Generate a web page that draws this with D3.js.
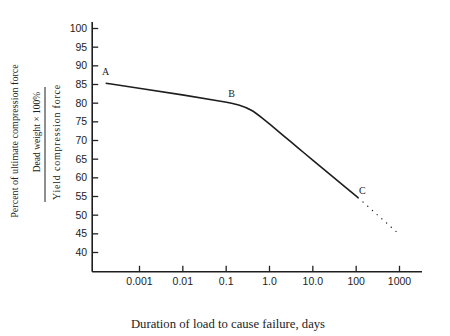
<!DOCTYPE html>
<html>
<head>
<meta charset="utf-8">
<script src="https://cdn.jsdelivr.net/npm/d3@7/dist/d3.min.js"></script>
<style>
  html, body { margin: 0; padding: 0; background: #fff; }
  svg { display: block; font-family: "Liberation Serif", "DejaVu Serif", serif; }
  .axis text { font-size: 10.5px; fill: #222; }
  .axis line, .axis path { stroke: #222; }
</style>
</head>
<body>
<svg id="chart" width="450" height="336"></svg>
<script>
// Duration of load (days) and percent of ultimate compression force
const durationDays = [0.00017, 0.001, 0.01, 0.1, 0.2, 0.4, 0.7, 1.0, 2, 5, 10, 30, 60, 115];
const percentForce = [85.2, 83.9, 82.1, 80.2, 79.5, 78.1, 75.85, 74.4, 71.5, 67.6, 64.7, 60.1, 57.2, 54.5];

// Extrapolated (dotted) continuation beyond point C
const extrapDays = [115, 1000];
const extrapForce = [54.5, 44.8];

// Labelled points on the curve
const pointNames = ["A", "B", "C"];
const pointDays = [0.00017, 0.13, 115];
const pointForce = [85.2, 79.8, 54.5];

// Axis ticks
const xTickValues = [0.001, 0.01, 0.1, 1, 10, 100, 1000];
const xTickLabels = ["0.001", "0.01", "0.1", "1.0", "10.0", "100", "1000"];
const yTickValues = [40, 45, 50, 55, 60, 65, 70, 75, 80, 85, 90, 95, 100];

const svg = d3.select("#chart");

const x = d3.scaleLog().domain([1e-3, 1e3]).range([139, 399]);
const y = d3.scaleLinear().domain([40, 100]).range([252, 28]);

const xMin = Math.pow(10, -4.08), xMax = Math.pow(10, 3.53);
const yMin = 34.7, yMax = 101.6;
const ink = "#1e1e1e";

// Axis lines
svg.append("line")
  .attr("x1", x(xMin)).attr("x2", x(xMin))
  .attr("y1", y(yMax)).attr("y2", y(yMin))
  .attr("stroke", ink).attr("stroke-width", 1.6);
svg.append("line")
  .attr("x1", x(xMin)).attr("x2", x(xMax))
  .attr("y1", y(yMin)).attr("y2", y(yMin))
  .attr("stroke", ink).attr("stroke-width", 1.6);

// Y axis ticks (pointing inward)
const yAxis = d3.axisLeft(y)
  .tickValues(yTickValues)
  .tickFormat(d3.format("d"))
  .tickSizeInner(-6)
  .tickSizeOuter(0)
  .tickPadding(5);
const gy = svg.append("g").attr("class", "axis")
  .attr("transform", `translate(${x(xMin)},0)`)
  .call(yAxis);
gy.select(".domain").remove();
gy.selectAll(".tick line").attr("stroke-width", 1.3);

// X axis ticks (pointing inward)
const xAxis = d3.axisBottom(x)
  .tickValues(xTickValues)
  .tickFormat((d, i) => xTickLabels[i])
  .tickSizeInner(-6)
  .tickSizeOuter(0)
  .tickPadding(6);
const gx = svg.append("g").attr("class", "axis")
  .attr("transform", `translate(0,${y(yMin)})`)
  .call(xAxis);
gx.select(".domain").remove();
gx.selectAll(".tick line").attr("stroke-width", 1.3);

// Main curve
const line = d3.line()
  .x((d, i) => x(durationDays[i]))
  .y((d, i) => y(percentForce[i]))
  .curve(d3.curveBasis);
svg.append("path")
  .attr("d", line(durationDays))
  .attr("fill", "none")
  .attr("stroke", ink)
  .attr("stroke-width", 1.6);

// Dotted extrapolation
svg.append("path")
  .attr("d", d3.line()
    .x((d, i) => x(extrapDays[i]))
    .y((d, i) => y(extrapForce[i]))(extrapDays))
  .attr("fill", "none")
  .attr("stroke", ink)
  .attr("stroke-width", 1.3)
  .attr("stroke-linecap", "round")
  .attr("stroke-dasharray", "0.1 6.2");

// Point labels
const labelOffsets = [[0, -8], [1, -6], [4, -4]];
svg.selectAll("text.pt")
  .data(pointNames)
  .enter().append("text")
  .attr("class", "pt")
  .attr("x", (d, i) => x(pointDays[i]) + labelOffsets[i][0])
  .attr("y", (d, i) => y(pointForce[i]) + labelOffsets[i][1])
  .attr("text-anchor", "middle")
  .attr("font-size", 10)
  .attr("fill", "#222")
  .text(d => d);

// X axis title
svg.append("text")
  .attr("x", 228).attr("y", 328)
  .attr("text-anchor", "middle")
  .attr("font-size", 12.7)
  .attr("fill", "#222")
  .text("Duration of load to cause failure, days");

// Y axis title: description and ratio
svg.append("text")
  .attr("transform", "translate(18,141) rotate(-90)")
  .attr("text-anchor", "middle")
  .attr("font-size", 10.1)
  .attr("fill", "#222")
  .text("Percent of ultimate compression force");

svg.append("text")
  .attr("transform", "translate(40,132) rotate(-90)")
  .attr("text-anchor", "middle")
  .attr("font-size", 9.5)
  .attr("fill", "#222")
  .text("Dead weight × 100%");

svg.append("line")
  .attr("x1", 45).attr("x2", 45)
  .attr("y1", 87).attr("y2", 202)
  .attr("stroke", ink).attr("stroke-width", 1);

svg.append("text")
  .attr("transform", "translate(60,142) rotate(-90)")
  .attr("text-anchor", "middle")
  .attr("font-size", 10)
  .attr("letter-spacing", 0.8)
  .attr("fill", "#222")
  .text("Yield compression force");
</script>
</body>
</html>
